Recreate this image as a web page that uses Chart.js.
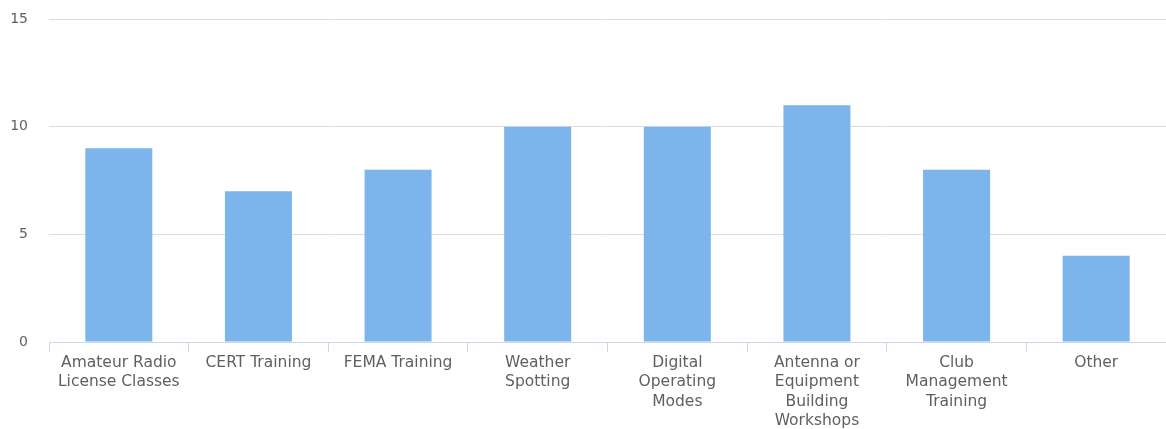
<!DOCTYPE html>
<html>
<head>
<meta charset="utf-8">
<script src="https://cdn.jsdelivr.net/npm/chart.js@4/dist/chart.umd.min.js"></script>
<style>
  html, body { margin: 0; padding: 0; background: #fff; }
  #wrap { width: 1166px; height: 429px; }
</style>
</head>
<body>
<div id="wrap"><canvas id="trainingChart" width="1166" height="429"></canvas></div>
<script>
// --- DATA ---
const categories = [
    ['Amateur Radio', 'License Classes'],
    'CERT Training',
    'FEMA Training',
    ['Weather', 'Spotting'],
    ['Digital', 'Operating', 'Modes'],
    ['Antenna or', 'Equipment', 'Building', 'Workshops'],
    ['Club', 'Management', 'Training'],
    'Other'
];
const responses = [9, 7, 8, 10, 10, 11, 8, 4];
const yTicks = [0, 5, 10, 15];

const fontFamily = '"DejaVu Sans", Verdana, sans-serif';

const ctx = document.getElementById('trainingChart').getContext('2d');
new Chart(ctx, {
    type: 'bar',
    data: {
        labels: categories,
        datasets: [{
            label: 'Responses',
            data: responses,
            backgroundColor: '#7cb5ec',
            borderWidth: 0,
            categoryPercentage: 1,
            barPercentage: 0.48
        }]
    },
    options: {
        responsive: false,
        animation: false,
        layout: { padding: { top: 19, right: 0, left: 0, bottom: 0 } },
        plugins: {
            legend: { display: false },
            tooltip: { enabled: false }
        },
        scales: {
            x: {
                offset: true,
                grid: {
                    offset: true,
                    drawOnChartArea: false,
                    drawTicks: true,
                    tickLength: 10,
                    color: '#ccd6eb'
                },
                border: { color: '#ccd6eb', width: 1 },
                ticks: {
                    color: '#606060',
                    font: { family: fontFamily, size: 15.5, lineHeight: 1.26 },
                    padding: 1,
                    maxRotation: 0,
                    autoSkip: false
                },
                afterFit: (axis) => {
                    axis.height = 87;
                    axis.paddingLeft = 0;
                    axis.paddingRight = 0;
                }
            },
            y: {
                min: 0,
                max: 15,
                afterBuildTicks: (axis) => { axis.ticks = yTicks.map(v => ({ value: v })); },
                grid: { color: '#dcdcdc', drawTicks: false },
                border: { display: false },
                ticks: {
                    color: '#606060',
                    font: { family: fontFamily, size: 14 },
                    padding: 21
                },
                afterFit: (axis) => {
                    axis.width = 49;
                    axis.paddingTop = 0;
                    axis.paddingBottom = 0;
                }
            }
        }
    }
});
</script>
</body>
</html>
